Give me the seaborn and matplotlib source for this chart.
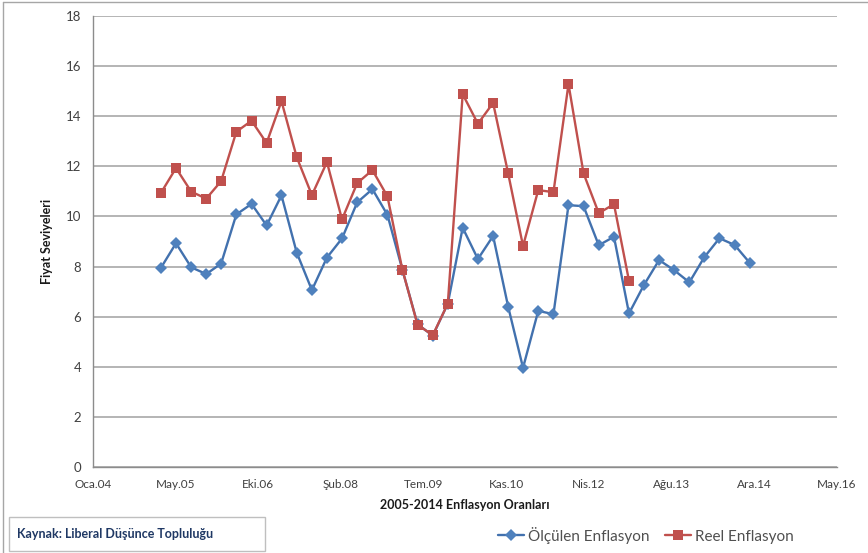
import numpy as np
import pandas as pd
import matplotlib
matplotlib.use('Agg')
import matplotlib.pyplot as plt
import matplotlib.dates as mdates
from matplotlib.lines import Line2D
from matplotlib.patches import Rectangle
import seaborn as sns

# quarterly readings, 2005-2014
dates = pd.date_range('2005-02-28', periods=40, freq='3ME')

olculen = [7.94, 8.93, 7.97, 7.70, 8.12, 10.08, 10.50, 9.64, 10.84, 8.56,
           7.06, 8.36, 9.12, 10.56, 11.09, 10.06, 7.88, 5.70, 5.24, 6.52,
           9.55, 8.30, 9.22, 6.40, 3.96, 6.23, 6.10, 10.45, 10.41, 8.85,
           9.19, 6.13, 7.26, 8.26, 7.85, 7.37, 8.37, 9.13, 8.86, 8.15]

reel = [10.93, 11.93, 10.99, 10.71, 11.41, 13.38, 13.82, 12.93, 14.60, 12.37,
        10.85, 12.17, 9.88, 11.33, 11.85, 10.80, 7.88, 5.68, 5.26, 6.52,
        14.88, 13.70, 14.53, 11.72, 8.82, 11.05, 10.97, 15.28, 11.72, 10.13,
        10.49, 7.43]

series_names = ['Ölçülen Enflasyon', 'Reel Enflasyon']
y_ticks = list(range(0, 19, 2))
x_tick_labels = ['Oca.04', 'May.05', 'Eki.06', 'Şub.08', 'Tem.09',
                 'Kas.10', 'Nis.12', 'Ağu.13', 'Ara.14', 'May.16']

df = pd.concat([
    pd.DataFrame({'tarih': dates, 'deger': olculen, 'seri': series_names[0]}),
    pd.DataFrame({'tarih': dates[:len(reel)], 'deger': reel, 'seri': series_names[1]}),
])

sns.set_style('white')
plt.rcParams['font.family'] = ['Lato', 'DejaVu Sans']

line_cols = ['#4271AE', '#C0504D']
mark_cols = ['#4F81BD', '#C0504D']

fig = plt.figure(figsize=(8.68, 5.53), dpi=100)
ax = fig.add_axes([93 / 868, 1 - 467 / 553, 744 / 868, 451 / 553])

sns.lineplot(data=df, x='tarih', y='deger', hue='seri', style='seri',
             markers=['D', 's'], dashes=False, palette=line_cols,
             linewidth=1.7, markersize=6.5, markeredgewidth=0,
             legend=False, ax=ax)

for ln, mc in zip(ax.lines, mark_cols):
    ln.set_markerfacecolor(mc)
    ln.set_markeredgecolor(mc)
ax.lines[1].set_markersize(7)
ax.lines[0].set_markersize(6)

# date axis: ticks every 500 days
start = mdates.date2num(pd.Timestamp('2004-01-15'))
ticks = [start + 500 * k for k in range(len(x_tick_labels))]
ax.set_xlim(ticks[0], ticks[-1])
ax.set_xticks(ticks)
ax.set_xticklabels(x_tick_labels)
ax.set_ylim(0, 18)
ax.set_yticks(y_ticks)

ax.yaxis.grid(True, color='#A0A0A0', linewidth=1.1)
ax.xaxis.grid(False)
for s in ['top', 'right']:
    ax.spines[s].set_visible(False)
for s in ['left', 'bottom']:
    ax.spines[s].set_color('#8C8C8C')
    ax.spines[s].set_linewidth(1.0)
ax.tick_params(axis='both', direction='out', length=5, width=1,
               color='#8C8C8C', labelcolor='#404040', labelsize=9.5)
ax.tick_params(axis='x', labelsize=8.5, pad=4)

ax.set_xlabel('2005-2014 Enflasyon Oranları', fontsize=9, fontweight='bold',
              color='#1a1a1a', labelpad=6)
ax.set_ylabel('Fiyat Seviyeleri', fontsize=9, fontweight='bold',
              color='#1a1a1a', labelpad=9)

# legend at the bottom
handles = [Line2D([], [], color=line_cols[i], marker=m, markersize=ms,
                  markerfacecolor=mark_cols[i], markeredgewidth=0, linewidth=1.7)
           for i, (m, ms) in enumerate([('D', 6), ('s', 7)])]
fig.legend(handles, series_names, loc='center', ncol=2, frameon=False,
           bbox_to_anchor=(646 / 868, 1 - 535 / 553), fontsize=11,
           labelcolor='#505050', handlelength=1.7, handletextpad=0.25,
           columnspacing=1.0)

# source box
fig.add_artist(Rectangle((9 / 868, 1 - 551 / 553), 256 / 868, 34 / 553,
                         transform=fig.transFigure, fill=False,
                         edgecolor='#BFBFBF', linewidth=1))
fig.text(17 / 868, 1 - 534 / 553, 'Kaynak: Liberal Düşünce Topluluğu',
         fontsize=9, fontweight='bold', color='#1F3864', va='center')

# outer chart border (left and top edges visible)
fig.add_artist(Line2D([3 / 868, 3 / 868], [0, 1 - 2 / 553],
                      transform=fig.transFigure, color='#A6A6A6', linewidth=1))
fig.add_artist(Line2D([3 / 868, 1], [1 - 2 / 553, 1 - 2 / 553],
                      transform=fig.transFigure, color='#A6A6A6', linewidth=1))

plt.savefig('out.png', dpi=100)
